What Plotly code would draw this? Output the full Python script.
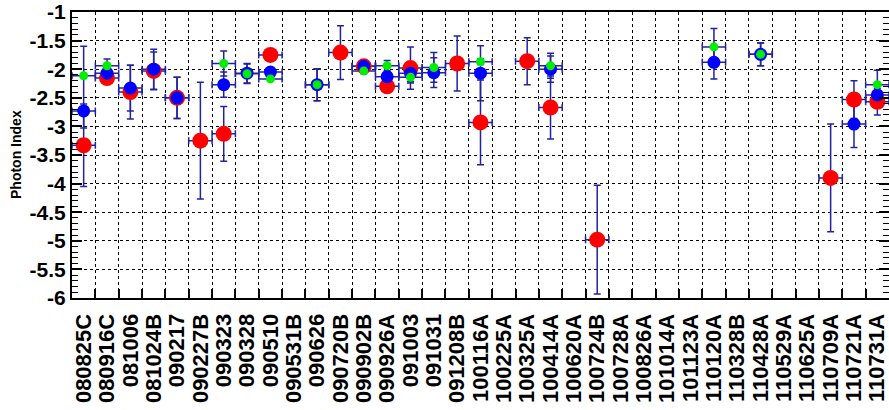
import plotly.graph_objects as go

# GRB names along the x axis
grbs = ["080825C", "080916C", "081006", "081024B", "090217", "090227B", "090323",
        "090328", "090510", "090531B", "090626", "090720B", "090902B", "090926A",
        "091003", "091031", "091208B", "100116A", "100225A", "100325A", "100414A",
        "100620A", "100724B", "100728A", "100826A", "101014A", "101123A", "110120A",
        "110328B", "110428A", "110529A", "110625A", "110709A", "110721A", "110731A"]

N = None
# photon index, red series
red_idx = [-3.33, -2.155, -2.40, -2.03, -2.50, -3.25, -3.13, N, -1.75, N,
           N, -1.71, -1.95, -2.30, -1.98, N, -1.90, -2.93, N, -1.86,
           -2.67, N, -4.98, N, N, N, N, N, N, N,
           N, N, -3.90, -2.53, -2.57]
red_err = [0.72, 0.10, 0.47, 0.33, 0.36, 1.02, 0.48, N, 0.0, N,
           N, 0.47, 0.05, 0.10, 0.37, N, 0.48, 0.74, N, 0.41,
           0.55, N, 0.95, N, N, N, N, N, N, N,
           N, N, 0.94, 0.33, 0.23]

# photon index, blue series (asymmetric errors)
blue_idx = [-2.73, -2.07, -2.33, -2.00, -2.50, N, -2.27, -2.07, -2.05, N,
            -2.27, N, -1.95, -2.13, -2.07, -2.06, N, -2.07, N, N,
            -2.00, N, N, N, N, N, N, -1.88, N, -1.74,
            N, N, N, -2.96, -2.45]
blue_err_hi = [1.13, 0.10, 0.40, 0.35, 0.36, N, 0.22, 0.17, 0.0, N,
               0.28, N, 0.05, 0.10, 0.15, 0.26, N, 0.48, N, N,
               0.23, N, N, N, N, N, N, 0.29, N, 0.20,
               N, N, N, 0.41, 0.20]
blue_err_lo = [0.30, 0.10, 0.40, 0.35, 0.36, N, 0.22, 0.17, 0.0, N,
               0.28, N, 0.05, 0.10, 0.15, 0.26, N, 0.48, N, N,
               0.23, N, N, N, N, N, N, 0.29, N, 0.20,
               N, N, N, 0.41, 0.20]

# photon index, green series
green_idx = [-2.115, -1.94, N, N, N, N, -1.90, -2.08, -2.17, N,
             -2.27, N, -2.03, -1.94, -2.14, -1.97, N, -1.87, N, N,
             -1.94, N, N, N, N, N, N, -1.61, N, -1.74,
             N, N, N, N, -2.27]
green_err = [0.0, 0.12, N, N, N, N, 0.22, 0.17, 0.0, N,
             0.28, N, 0.05, 0.09, 0.10, 0.26, N, 0.05, N, N,
             0.22, N, N, N, N, N, N, 0.32, N, 0.20,
             N, N, N, N, 0.25]

y_ticks = [-6, -5.5, -5, -4.5, -4, -3.5, -3, -2.5, -2, -1.5, -1]
y_tick_text = ["-6", "-5.5", "-5", "-4.5", "-4", "-3.5", "-3", "-2.5", "-2", "-1.5", "-1"]

xs = list(range(len(grbs)))
edges = [i + 0.5 for i in range(len(grbs) - 1)]
BAR = "#2222a0"
FONT = "Liberation Sans"


def clean(vals):
    return [0 if v is None else v for v in vals]


def err_trace(y, hi, lo):
    return go.Scatter(
        x=xs, y=y, mode="markers",
        marker=dict(size=1, color="rgba(0,0,0,0)"),
        error_y=dict(type="data", symmetric=False, array=clean(hi), arrayminus=clean(lo),
                     color=BAR, thickness=1.5, width=3.5),
        error_x=dict(type="constant", value=0.5, color=BAR, thickness=1.5, width=3.5),
        showlegend=False, hoverinfo="skip")


def mark_trace(y, color, size):
    return go.Scatter(x=xs, y=y, mode="markers",
                      marker=dict(size=size, color=color, line=dict(width=0)),
                      showlegend=False)


fig = go.Figure()
# error bars first so every marker sits on top of them
fig.add_trace(err_trace(red_idx, red_err, red_err))
fig.add_trace(err_trace(blue_idx, blue_err_hi, blue_err_lo))
fig.add_trace(err_trace(green_idx, green_err, green_err))
fig.add_trace(mark_trace(red_idx, "#ff0000", 16))
fig.add_trace(mark_trace(blue_idx, "#0000ff", 13))
fig.add_trace(mark_trace(green_idx, "#00ee00", 9))

fig.update_layout(
    width=889, height=410,
    margin=dict(l=72, r=0, t=8, b=112),
    paper_bgcolor="white", plot_bgcolor="white",
    font=dict(family=FONT, color="black"),
    xaxis=dict(
        range=[-0.5, len(grbs) - 0.5],
        tickmode="array", tickvals=xs, ticktext=grbs, tickangle=-90,
        tickfont=dict(family=FONT, size=22, weight="bold"),
        ticklabeloverflow="allow",
        ticks="", showgrid=False, zeroline=False, ticklabelstandoff=5,
        showline=True, linecolor="black", linewidth=2, mirror=True,
    ),
    xaxis2=dict(
        overlaying="x", matches="x", side="bottom",
        tickmode="array", tickvals=edges, showticklabels=False,
        ticks="inside", ticklen=9, tickwidth=1.5, tickcolor="black",
        showgrid=True, gridcolor="black", griddash="dot", gridwidth=1,
        zeroline=False, showline=False,
    ),
    yaxis=dict(
        range=[-6, -1],
        tickmode="array", tickvals=y_ticks, ticktext=y_tick_text,
        tickfont=dict(family=FONT, size=21, weight="bold"),
        ticklabeloverflow="allow",
        ticks="inside", ticklen=10, tickwidth=1.5, tickcolor="black",
        minor=dict(dtick=0.1, ticks="inside", ticklen=6, tickwidth=1.2,
                   tickcolor="black", showgrid=False),
        showgrid=True, gridcolor="black", griddash="dot", gridwidth=1,
        zeroline=False, showline=True, linecolor="black", linewidth=2,
    ),
    yaxis2=dict(
        overlaying="y", matches="y", side="right",
        tickmode="array", tickvals=y_ticks, showticklabels=False,
        ticks="inside", ticklen=10, tickwidth=1.5, tickcolor="black",
        minor=dict(dtick=0.1, ticks="inside", ticklen=6, tickwidth=1.2,
                   tickcolor="black", showgrid=False),
        showgrid=False, zeroline=False, showline=False,
    ),
    annotations=[dict(
        text="Photon Index", xref="paper", yref="paper", x=0, y=0.5,
        xanchor="center", yanchor="middle", xshift=-56, textangle=-90,
        showarrow=False, font=dict(family=FONT, size=14, weight="bold"),
    )],
)

# invisible point so the overlay axes get drawn
fig.add_trace(go.Scatter(x=[0], y=[-1], xaxis="x2", yaxis="y2", mode="markers",
                         marker=dict(size=1, color="rgba(0,0,0,0)"),
                         showlegend=False, hoverinfo="skip"))

fig.write_html("out.html")
